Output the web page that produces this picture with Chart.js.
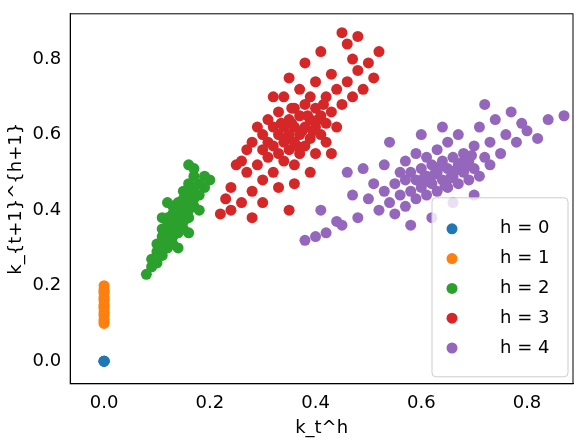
<!DOCTYPE html><html><head><script src="https://cdn.jsdelivr.net/npm/chart.js@4"></script>
<style>body{margin:0;background:#fff}#w{width:585px;height:445px}</style></head><body><div id="w"><canvas id="c"></canvas></div>
<script>
const labels=["h = 0","h = 1","h = 2","h = 3","h = 4"];
const colors=["#1f77b4","#ff7f0e","#2ca02c","#d62728","#9467bd"];
const h0=[0,0,0,0,0,0,0,0];
const h1=[0,0.1,0,0.11,0,0.12,0,0.13,0,0.14,0,0.15,0,0.16,0,0.17,0,0.18,0,0.19,0,0.2,0,0.105,0,0.125,0,0.145,0,0.165,0,0.185];
const h2=[0.08,0.23,0.09,0.25,0.09,0.27,0.10,0.26,0.10,0.29,0.10,0.31,0.11,0.28,0.11,0.30,0.11,0.33,0.11,0.35,0.12,0.30,0.12,0.32,0.12,0.34,0.12,0.36,0.12,0.38,0.13,0.31,0.13,0.33,0.13,0.35,0.13,0.37,0.13,0.39,0.13,0.41,0.14,0.34,0.14,0.36,0.14,0.38,0.14,0.40,0.14,0.42,0.15,0.35,0.15,0.37,0.15,0.39,0.15,0.41,0.15,0.43,0.15,0.45,0.16,0.38,0.16,0.40,0.16,0.42,0.16,0.44,0.16,0.47,0.17,0.41,0.17,0.43,0.17,0.46,0.17,0.49,0.18,0.44,0.18,0.47,0.16,0.52,0.17,0.51,0.19,0.46,0.19,0.49,0.20,0.48,0.14,0.30,0.18,0.40,0.12,0.42,0.11,0.38,0.16,0.34,0.125,0.33,0.135,0.36,0.145,0.39,0.155,0.40,0.165,0.45,0.105,0.30,0.115,0.32,0.175,0.44];
const h3=[0.22,0.39,0.23,0.43,0.24,0.40,0.24,0.46,0.25,0.52,0.26,0.42,0.26,0.53,0.27,0.50,0.27,0.56,0.28,0.45,0.28,0.58,0.29,0.52,0.29,0.62,0.30,0.48,0.30,0.56,0.30,0.60,0.31,0.54,0.31,0.58,0.31,0.64,0.32,0.50,0.32,0.57,0.32,0.62,0.33,0.55,0.33,0.60,0.33,0.66,0.34,0.53,0.34,0.58,0.34,0.62,0.34,0.70,0.35,0.56,0.35,0.60,0.35,0.64,0.35,0.75,0.36,0.52,0.36,0.58,0.36,0.62,0.36,0.67,0.37,0.55,0.37,0.60,0.37,0.65,0.37,0.72,0.38,0.57,0.38,0.62,0.38,0.68,0.38,0.79,0.39,0.59,0.39,0.64,0.39,0.70,0.40,0.55,0.40,0.62,0.40,0.67,0.40,0.74,0.41,0.60,0.41,0.65,0.41,0.82,0.42,0.58,0.42,0.63,0.42,0.70,0.43,0.66,0.43,0.76,0.44,0.62,0.44,0.72,0.45,0.68,0.45,0.87,0.46,0.74,0.46,0.84,0.47,0.70,0.47,0.80,0.48,0.77,0.48,0.86,0.49,0.72,0.50,0.79,0.51,0.75,0.52,0.82,0.33,0.46,0.35,0.40,0.28,0.38,0.30,0.42,0.39,0.50,0.36,0.47,0.43,0.55,0.32,0.70,0.345,0.59,0.355,0.63,0.365,0.57,0.375,0.61,0.385,0.65,0.395,0.61,0.405,0.64,0.415,0.68,0.355,0.67,0.335,0.63];
const h4=[0.38,0.32,0.40,0.33,0.41,0.40,0.42,0.34,0.44,0.37,0.45,0.36,0.47,0.44,0.48,0.38,0.49,0.51,0.50,0.43,0.51,0.47,0.52,0.40,0.53,0.45,0.53,0.52,0.54,0.42,0.55,0.47,0.55,0.39,0.56,0.44,0.56,0.50,0.57,0.41,0.57,0.48,0.57,0.53,0.58,0.45,0.58,0.50,0.59,0.43,0.59,0.48,0.59,0.55,0.60,0.46,0.60,0.51,0.61,0.44,0.61,0.49,0.61,0.54,0.62,0.47,0.62,0.52,0.63,0.45,0.63,0.50,0.63,0.56,0.64,0.48,0.64,0.53,0.65,0.46,0.65,0.51,0.65,0.58,0.66,0.49,0.66,0.54,0.67,0.47,0.67,0.52,0.67,0.60,0.68,0.50,0.68,0.55,0.69,0.48,0.69,0.53,0.70,0.51,0.70,0.57,0.71,0.49,0.71,0.62,0.72,0.54,0.72,0.68,0.73,0.52,0.73,0.58,0.74,0.64,0.75,0.55,0.76,0.60,0.77,0.66,0.78,0.58,0.79,0.63,0.80,0.61,0.82,0.59,0.84,0.64,0.87,0.65,0.62,0.38,0.58,0.36,0.66,0.42,0.70,0.44,0.54,0.58,0.60,0.60,0.46,0.50,0.64,0.62,0.615,0.475,0.625,0.495,0.635,0.515,0.645,0.465,0.655,0.485,0.665,0.505,0.675,0.525,0.685,0.515,0.695,0.545,0.605,0.485];
const xTicks=[0,0.2,0.4,0.6,0.8], yTicks=[0,0.2,0.4,0.6,0.8];
const toPts=a=>{const r=[];for(let i=0;i<a.length;i+=2)r.push({x:a[i],y:a[i+1]});return r;};
const series=[h0,h1,h2,h3,h4];
const legendPlugin={id:'lg',afterDraw(ch){const c=ch.ctx,a=ch.chartArea;
c.save();c.strokeStyle='#000';c.lineWidth=1;c.strokeRect(a.left,a.top,a.right-a.left,a.bottom-a.top);
const x0=a.right-141,y0=a.bottom-186;
c.fillStyle='rgba(255,255,255,0.8)';c.strokeStyle='#ccc';
c.beginPath();c.roundRect(x0,y0,136,179,4);c.fill();c.stroke();
c.font='18px "DejaVu Sans"';c.textBaseline='middle';
labels.forEach((l,i)=>{const y=y0+31+i*29.8;c.fillStyle=colors[i];c.beginPath();c.arc(x0+20,y,5.5,0,7);c.fill();c.fillStyle='#000';c.fillText(l,x0+68,y);});c.restore();}};
new Chart(document.getElementById('c'),{type:'scatter',
data:{datasets:series.map((s,i)=>({label:labels[i],data:toPts(s),backgroundColor:colors[i],borderWidth:0,pointRadius:5.5}))},
options:{responsive:true,maintainAspectRatio:false,animation:false,layout:{padding:{right:12,top:3,left:4,bottom:6}},
plugins:{legend:{display:false},tooltip:{enabled:false}},
scales:{x:{type:'linear',min:-0.064,max:0.887,afterBuildTicks:ax=>{ax.ticks=xTicks.map(v=>({value:v}))},grid:{display:false,drawTicks:true,tickLength:6,tickColor:'#000'},border:{color:'#000'},
ticks:{color:'#000',font:{size:18,family:'DejaVu Sans'},callback:v=>v.toFixed(1)},title:{display:true,text:'k_t^h',color:'#000',font:{size:18,family:'DejaVu Sans'},padding:0}},
y:{type:'linear',min:-0.06,max:0.92,afterBuildTicks:ax=>{ax.ticks=yTicks.map(v=>({value:v}))},grid:{display:false,tickLength:6,tickColor:'#000'},border:{color:'#000'},
ticks:{color:'#000',font:{size:18,family:'DejaVu Sans'},callback:v=>v.toFixed(1)},title:{display:true,text:'k_{t+1}^{h+1}',color:'#000',font:{size:18,family:'DejaVu Sans'},padding:2}}}},
plugins:[legendPlugin]});
</script></body></html>
